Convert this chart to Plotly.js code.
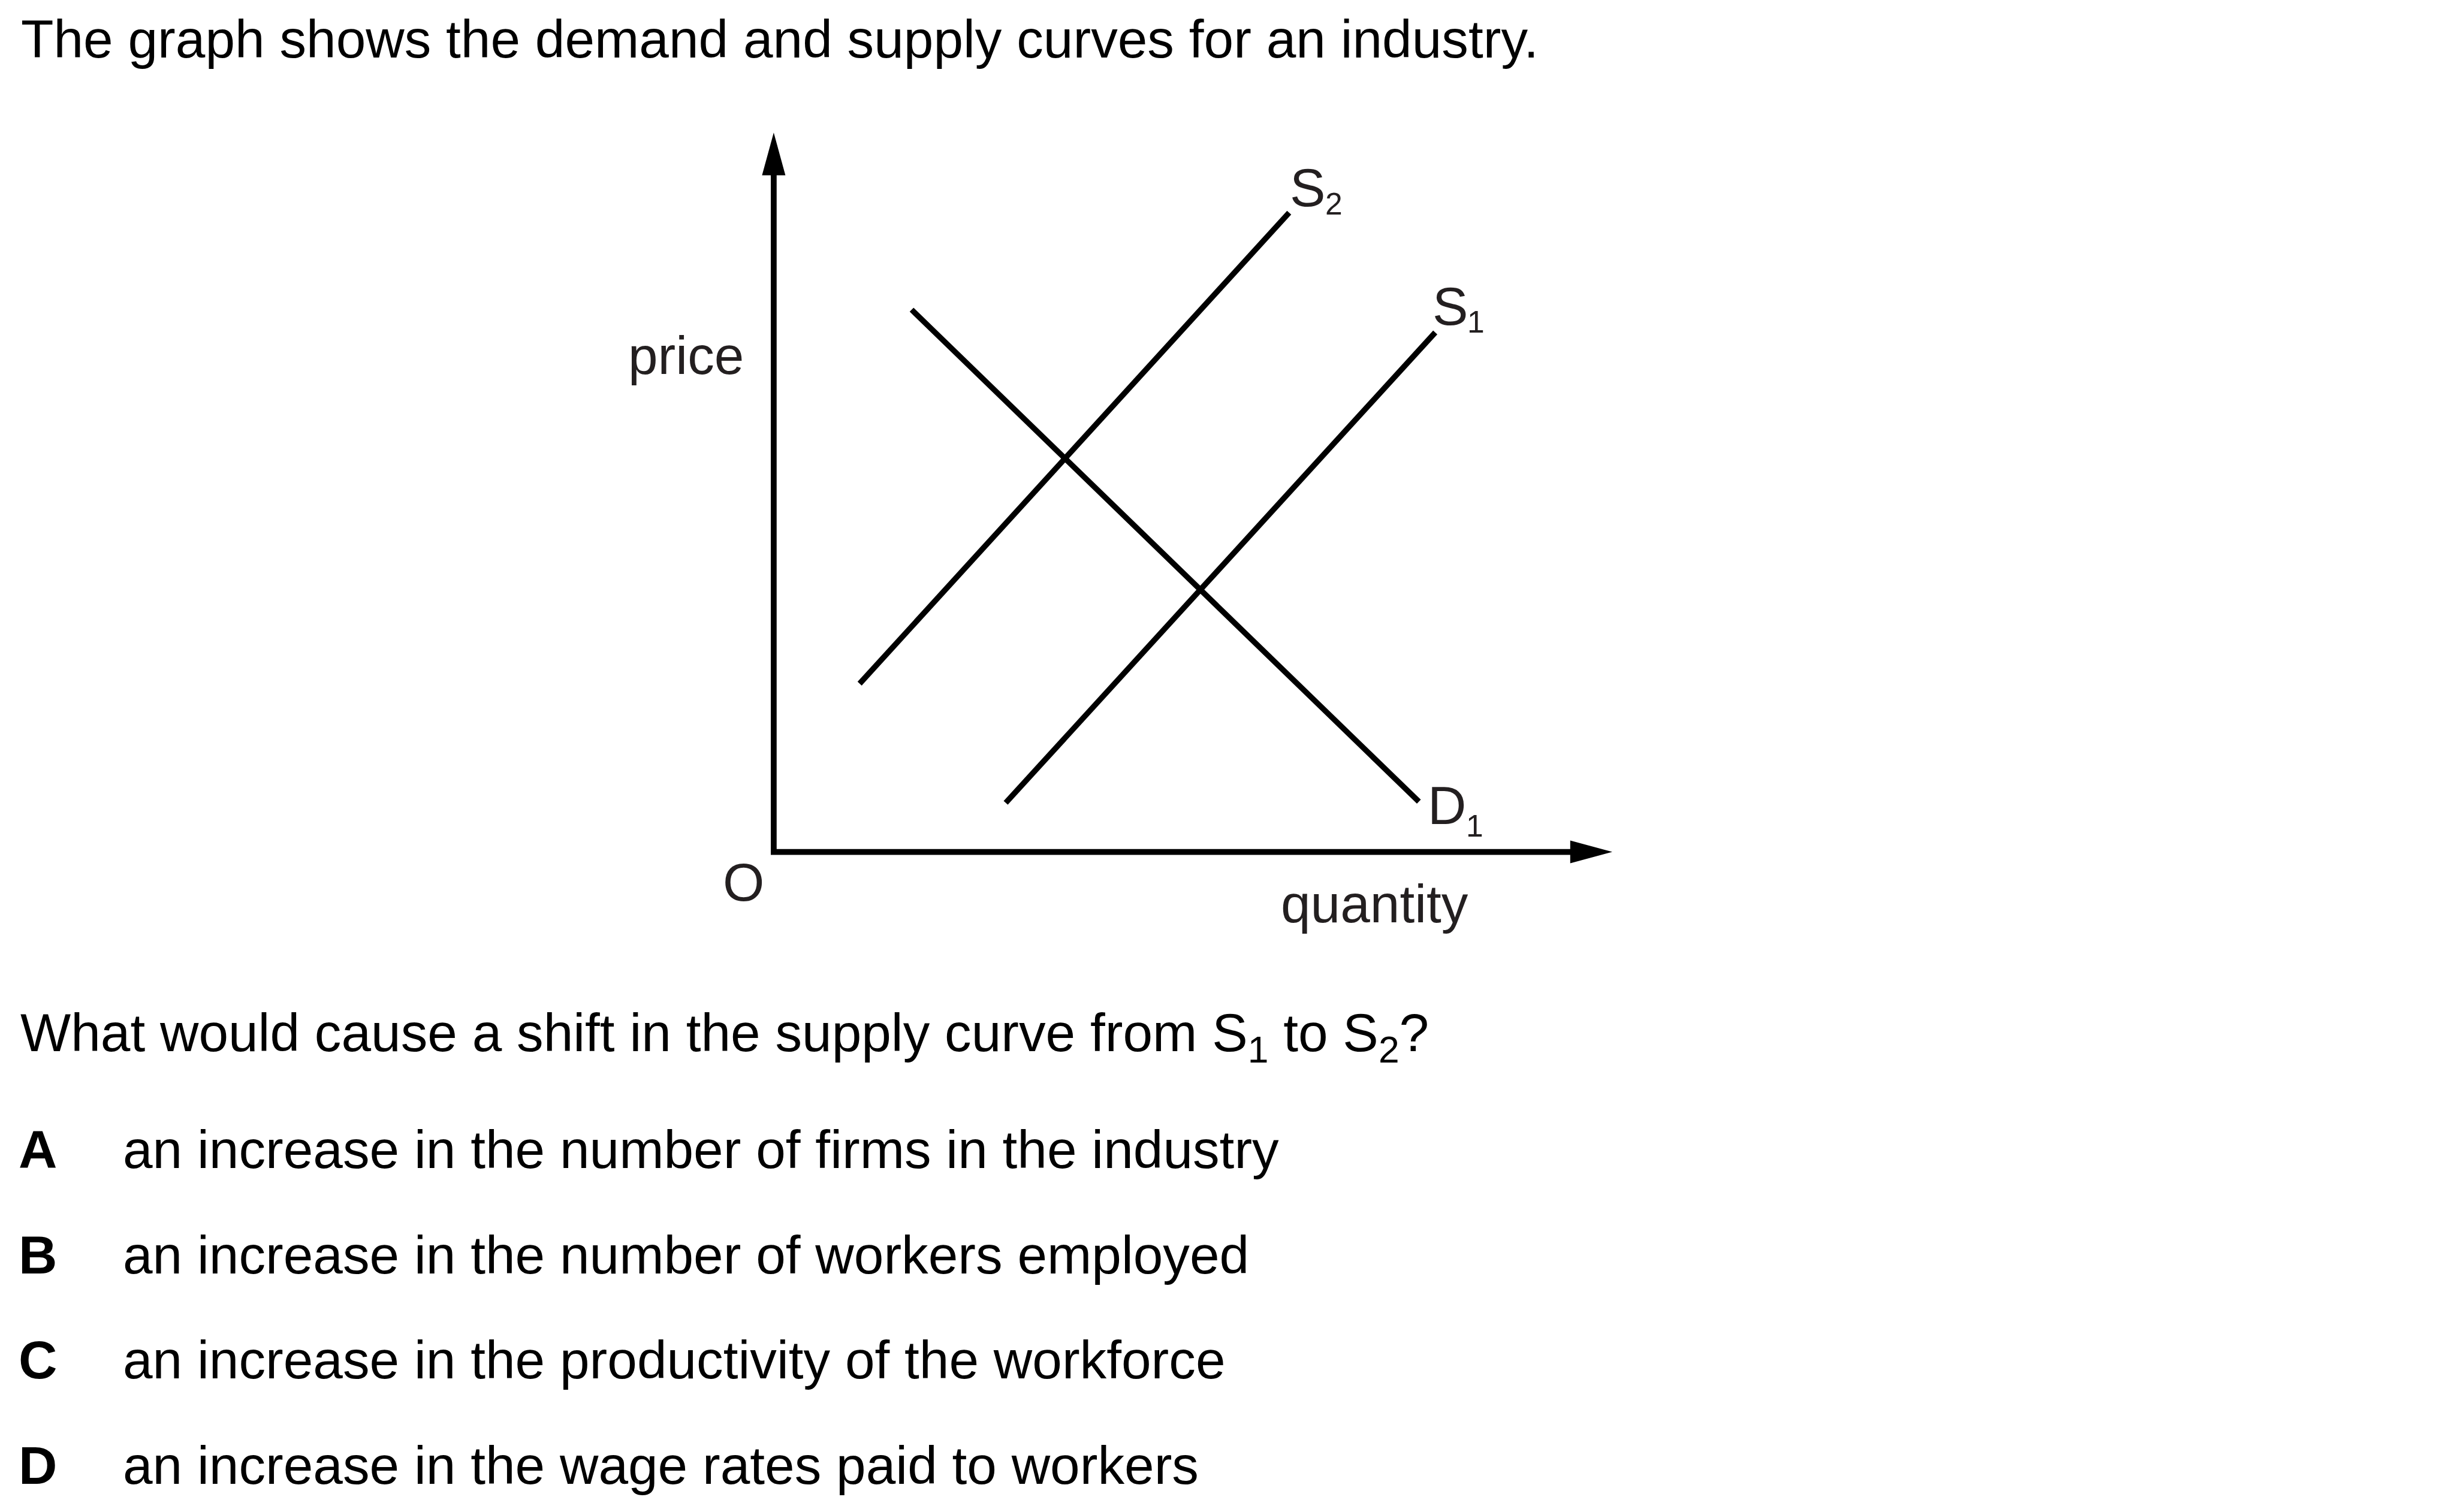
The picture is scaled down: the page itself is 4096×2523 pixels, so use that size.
<!DOCTYPE html>
<html>
<head>
<meta charset="utf-8">
<script src="https://cdn.plot.ly/plotly-3.0.1.min.js"></script>
<style>html,body{margin:0;padding:0;background:#fff;overflow:hidden}#chart{width:4096px;height:2523px}</style>
</head>
<body>
<div id="chart"></div>
<script>
// ---- data (quantity / price units; origin O = 0,0) ----
const curveNames = ["S2", "S1", "D1"];
const quantityS2 = [1.47, 8.82];
const priceS2 = [2.88, 10.94];
const quantityS1 = [3.97, 11.32];
const priceS1 = [0.84, 8.89];
const quantityD1 = [2.36, 11.04];
const priceD1 = [9.28, 0.86];
const axisLabels = ["price", "quantity", "O"];
const titleText = "The graph shows the demand and supply curves for an industry.";
const questionText = "What would cause a shift in the supply curve from S<sub>1</sub> to S<sub>2</sub>?";
const optionLetters = ["A", "B", "C", "D"];
const optionTexts = [
  "an increase in the number of firms in the industry",
  "an increase in the number of workers employed",
  "an increase in the productivity of the workforce",
  "an increase in the wage rates paid to workers"
];

// ---- layout geometry ----
const W = 4096, H = 2523, S = 0.975;
const OX = 1324, OY = 1458, U = 100;           // origin and unit in reference pixels
const FONT = "Liberation Sans, Arial, Helvetica, sans-serif";
const MAIN = 91.5, SUBF = 53;
const INK = "#231f20";

const xRange = [(0 - OX) / U, (W / S - OX) / U];
const yRange = [(OY - H / S) / U, (OY - 0) / U];

function txt(text, xr, base, size, anchor, opts) {
  opts = opts || {};
  return {
    text: text, xref: "paper", yref: "paper",
    x: xr * S / W, y: 1 - (base - 0.3465 * size) * S / H,
    xanchor: anchor, yanchor: "middle", showarrow: false,
    borderpad: 0, borderwidth: 0,
    font: { family: FONT, size: size * S, color: opts.color || INK, weight: opts.weight || "normal" }
  };
}

const lineStyle = { color: "#000", width: 9.4 };
const traces = [
  { x: quantityS2, y: priceS2, name: curveNames[0], mode: "lines", line: lineStyle, hoverinfo: "skip" },
  { x: quantityS1, y: priceS1, name: curveNames[1], mode: "lines", line: lineStyle, hoverinfo: "skip" },
  { x: quantityD1, y: priceD1, name: curveNames[2], mode: "lines", line: lineStyle, hoverinfo: "skip" }
];

const yTip = (OY - 227) / U, yBase = (OY - 300) / U;
const xTip = (2759 - OX) / U, xBase = (2687 - OX) / U;
const shapes = [
  { type: "path", xref: "x", yref: "y",
    path: `M 0,${yBase + 0.05} L 0,0 L ${xBase + 0.05},0`,
    line: { color: "#000", width: 9.75 } },
  { type: "path", xref: "x", yref: "y",
    path: `M -0.2,${yBase} L 0.2,${yBase} L 0,${yTip} Z`,
    fillcolor: "#000", line: { width: 0 } },
  { type: "path", xref: "x", yref: "y",
    path: `M ${xBase},0.195 L ${xBase},-0.195 L ${xTip},0 Z`,
    fillcolor: "#000", line: { width: 0 } }
];

const annotations = [
  txt(titleText, 36, 98, MAIN, "left", { color: "#000" }),
  txt(axisLabels[0], 1273, 640, MAIN, "right"),
  txt(axisLabels[1], 2192, 1578, MAIN, "left"),
  txt(axisLabels[2], 1272, 1541, MAIN, "center"),
  txt("S", 2207, 353, MAIN, "left"),
  txt("2", 2268, 367, SUBF, "left"),
  txt("S", 2451, 556, MAIN, "left"),
  txt("1", 2511, 569, SUBF, "left"),
  txt("D", 2443, 1410, MAIN, "left"),
  txt("1", 2509, 1432, SUBF, "left"),
  txt(questionText, 35, 1806, MAIN, "left", { color: "#000" })
];
const optBase = [1999, 2179, 2359, 2539];
optionLetters.forEach((L, i) => {
  annotations.push(txt(L, 32, optBase[i], MAIN, "left", { color: "#000", weight: "bold" }));
  annotations.push(txt(optionTexts[i], 210, optBase[i], MAIN, "left", { color: "#000" }));
});

const layout = {
  width: W, height: H,
  margin: { l: 0, r: 0, t: 0, b: 0, pad: 0 },
  paper_bgcolor: "#fff", plot_bgcolor: "#fff",
  showlegend: false,
  xaxis: { range: xRange, visible: false, fixedrange: true, domain: [0, 1] },
  yaxis: { range: yRange, visible: false, fixedrange: true, domain: [0, 1] },
  shapes: shapes,
  annotations: annotations
};

Plotly.newPlot("chart", traces, layout, { displayModeBar: false, staticPlot: true });
</script>
</body>
</html>
